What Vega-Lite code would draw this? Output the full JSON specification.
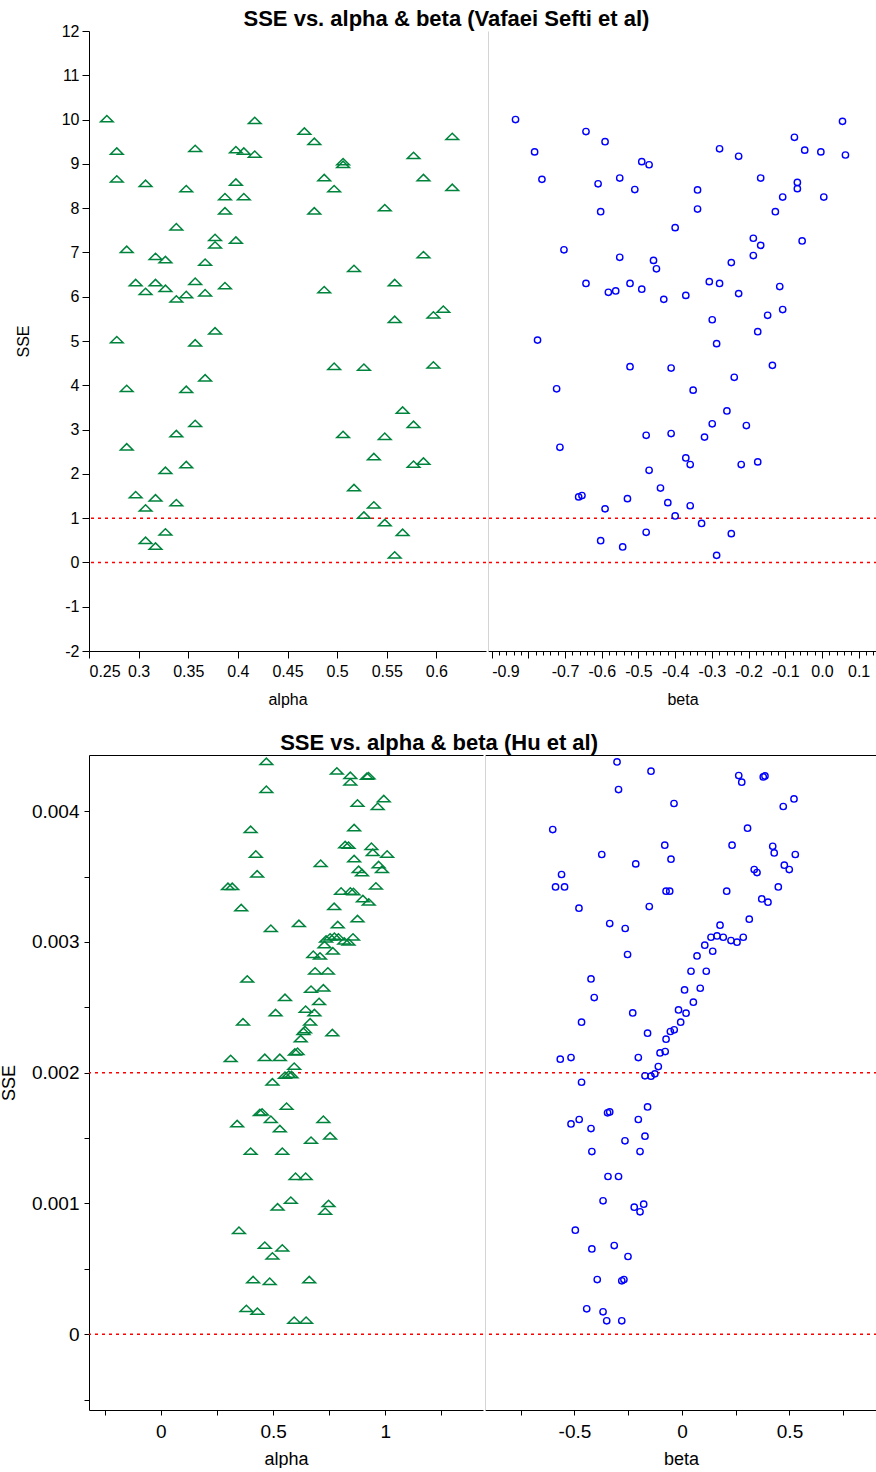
{
"$schema": "https://vega.github.io/schema/vega-lite/v6.json",
"padding": {"left": 0, "top": 8, "right": 0, "bottom": 0},
"config": {
  "view": {"stroke": null},
  "font": "Liberation Sans",
  "axis": {"grid": false, "domainColor": "#000000", "tickColor": "#000000", "labelColor": "#000000", "titleColor": "#000000", "labelFont": "Liberation Sans", "titleFont": "Liberation Sans", "labelFontSize": 16, "titleFontSize": 16, "titleFontWeight": "normal", "labelPadding": 3}
},
"datasets": {
  "refTop": [{"SSE": 0}, {"SSE": 1}],
  "refBot": [{"SSE": 0}, {"SSE": 0.002}],
  "va": [
    {"alpha":0.268,"SSE":10.02},{"alpha":0.417,"SSE":9.98},{"alpha":0.278,"SSE":9.29},{"alpha":0.357,"SSE":9.35},{"alpha":0.398,"SSE":9.32},{"alpha":0.406,"SSE":9.29},{"alpha":0.417,"SSE":9.22},{"alpha":0.278,"SSE":8.66},{"alpha":0.307,"SSE":8.56},{"alpha":0.348,"SSE":8.44},{"alpha":0.398,"SSE":8.59},{"alpha":0.387,"SSE":8.26},{"alpha":0.406,"SSE":8.26},{"alpha":0.387,"SSE":7.94},{"alpha":0.338,"SSE":7.58},{"alpha":0.377,"SSE":7.34},{"alpha":0.377,"SSE":7.17},{"alpha":0.398,"SSE":7.28},{"alpha":0.288,"SSE":7.07},{"alpha":0.317,"SSE":6.91},{"alpha":0.327,"SSE":6.84},{"alpha":0.367,"SSE":6.78},{"alpha":0.297,"SSE":6.32},{"alpha":0.317,"SSE":6.32},{"alpha":0.357,"SSE":6.35},{"alpha":0.387,"SSE":6.25},{"alpha":0.307,"SSE":6.12},{"alpha":0.327,"SSE":6.19},{"alpha":0.367,"SSE":6.09},{"alpha":0.338,"SSE":5.95},{"alpha":0.348,"SSE":6.05},{"alpha":0.377,"SSE":5.23},{"alpha":0.278,"SSE":5.03},{"alpha":0.357,"SSE":4.96},{"alpha":0.367,"SSE":4.17},{"alpha":0.288,"SSE":3.93},{"alpha":0.348,"SSE":3.91},{"alpha":0.357,"SSE":3.14},{"alpha":0.338,"SSE":2.91},{"alpha":0.288,"SSE":2.61},{"alpha":0.348,"SSE":2.21},{"alpha":0.327,"SSE":2.08},{"alpha":0.297,"SSE":1.53},{"alpha":0.317,"SSE":1.46},{"alpha":0.338,"SSE":1.35},{"alpha":0.307,"SSE":1.23},{"alpha":0.327,"SSE":0.69},{"alpha":0.307,"SSE":0.50},{"alpha":0.317,"SSE":0.37},{"alpha":0.467,"SSE":9.74},{"alpha":0.477,"SSE":9.51},{"alpha":0.616,"SSE":9.62},{"alpha":0.577,"SSE":9.19},{"alpha":0.506,"SSE":9.05},{"alpha":0.506,"SSE":8.99},{"alpha":0.487,"SSE":8.69},{"alpha":0.587,"SSE":8.69},{"alpha":0.497,"SSE":8.44},{"alpha":0.616,"SSE":8.47},{"alpha":0.477,"SSE":7.94},{"alpha":0.548,"SSE":8.01},{"alpha":0.587,"SSE":6.95},{"alpha":0.517,"SSE":6.64},{"alpha":0.558,"SSE":6.32},{"alpha":0.487,"SSE":6.16},{"alpha":0.607,"SSE":5.72},{"alpha":0.597,"SSE":5.59},{"alpha":0.558,"SSE":5.49},{"alpha":0.497,"SSE":4.43},{"alpha":0.527,"SSE":4.41},{"alpha":0.597,"SSE":4.46},{"alpha":0.566,"SSE":3.44},{"alpha":0.577,"SSE":3.12},{"alpha":0.506,"SSE":2.89},{"alpha":0.548,"SSE":2.85},{"alpha":0.537,"SSE":2.39},{"alpha":0.577,"SSE":2.22},{"alpha":0.587,"SSE":2.29},{"alpha":0.517,"SSE":1.69},{"alpha":0.537,"SSE":1.30},{"alpha":0.527,"SSE":1.07},{"alpha":0.548,"SSE":0.90},{"alpha":0.566,"SSE":0.68},{"alpha":0.558,"SSE":0.17}
  ],
  "vb": [
    {"beta":-0.835,"SSE":10.0},{"beta":-0.643,"SSE":9.73},{"beta":-0.591,"SSE":9.50},{"beta":-0.783,"SSE":9.27},{"beta":-0.491,"SSE":9.05},{"beta":-0.471,"SSE":8.98},{"beta":-0.763,"SSE":8.65},{"beta":-0.610,"SSE":8.55},{"beta":-0.551,"SSE":8.68},{"beta":-0.510,"SSE":8.42},{"beta":-0.603,"SSE":7.92},{"beta":-0.400,"SSE":7.56},{"beta":-0.703,"SSE":7.06},{"beta":-0.551,"SSE":6.89},{"beta":-0.459,"SSE":6.82},{"beta":-0.451,"SSE":6.63},{"beta":-0.643,"SSE":6.30},{"beta":-0.582,"SSE":6.10},{"beta":-0.562,"SSE":6.13},{"beta":-0.523,"SSE":6.30},{"beta":-0.491,"SSE":6.17},{"beta":-0.431,"SSE":5.94},{"beta":-0.371,"SSE":6.03},{"beta":-0.775,"SSE":5.02},{"beta":-0.523,"SSE":4.42},{"beta":-0.411,"SSE":4.39},{"beta":-0.723,"SSE":3.92},{"beta":-0.714,"SSE":2.60},{"beta":-0.479,"SSE":2.87},{"beta":-0.411,"SSE":2.91},{"beta":-0.371,"SSE":2.36},{"beta":-0.471,"SSE":2.08},{"beta":-0.440,"SSE":1.68},{"beta":-0.663,"SSE":1.48},{"beta":-0.654,"SSE":1.51},{"beta":-0.530,"SSE":1.44},{"beta":-0.591,"SSE":1.21},{"beta":-0.420,"SSE":1.35},{"beta":-0.400,"SSE":1.05},{"beta":-0.479,"SSE":0.68},{"beta":-0.603,"SSE":0.49},{"beta":-0.543,"SSE":0.35},{"beta":0.056,"SSE":9.96},{"beta":-0.075,"SSE":9.60},{"beta":-0.279,"SSE":9.34},{"beta":-0.227,"SSE":9.17},{"beta":-0.047,"SSE":9.31},{"beta":-0.003,"SSE":9.27},{"beta":0.064,"SSE":9.20},{"beta":-0.167,"SSE":8.68},{"beta":-0.067,"SSE":8.58},{"beta":-0.067,"SSE":8.44},{"beta":-0.339,"SSE":8.41},{"beta":-0.339,"SSE":7.98},{"beta":-0.107,"SSE":8.25},{"beta":0.005,"SSE":8.25},{"beta":-0.127,"SSE":7.92},{"beta":-0.187,"SSE":7.32},{"beta":-0.167,"SSE":7.16},{"beta":-0.054,"SSE":7.26},{"beta":-0.187,"SSE":6.93},{"beta":-0.247,"SSE":6.77},{"beta":-0.307,"SSE":6.34},{"beta":-0.279,"SSE":6.30},{"beta":-0.227,"SSE":6.07},{"beta":-0.115,"SSE":6.23},{"beta":-0.299,"SSE":5.48},{"beta":-0.148,"SSE":5.58},{"beta":-0.107,"SSE":5.71},{"beta":-0.175,"SSE":5.21},{"beta":-0.287,"SSE":4.94},{"beta":-0.135,"SSE":4.45},{"beta":-0.239,"SSE":4.18},{"beta":-0.351,"SSE":3.89},{"beta":-0.259,"SSE":3.42},{"beta":-0.299,"SSE":3.13},{"beta":-0.206,"SSE":3.09},{"beta":-0.320,"SSE":2.83},{"beta":-0.359,"SSE":2.21},{"beta":-0.220,"SSE":2.21},{"beta":-0.175,"SSE":2.27},{"beta":-0.359,"SSE":1.28},{"beta":-0.328,"SSE":0.88},{"beta":-0.247,"SSE":0.65},{"beta":-0.287,"SSE":0.16}
  ],
  "ha": [
    {"alpha":0.470,"SSE":0.004382},{"alpha":0.784,"SSE":0.004308},{"alpha":0.844,"SSE":0.004275},{"alpha":0.918,"SSE":0.004268},{"alpha":0.925,"SSE":0.004272},{"alpha":0.844,"SSE":0.004224},{"alpha":0.470,"SSE":0.004168},{"alpha":0.993,"SSE":0.004097},{"alpha":0.876,"SSE":0.004063},{"alpha":0.966,"SSE":0.004038},{"alpha":0.400,"SSE":0.003862},{"alpha":0.861,"SSE":0.003875},{"alpha":0.821,"SSE":0.003745},{"alpha":0.836,"SSE":0.003740},{"alpha":0.938,"SSE":0.003732},{"alpha":0.944,"SSE":0.003686},{"alpha":1.008,"SSE":0.003673},{"alpha":0.423,"SSE":0.003673},{"alpha":0.861,"SSE":0.003638},{"alpha":0.712,"SSE":0.003602},{"alpha":0.970,"SSE":0.003592},{"alpha":0.881,"SSE":0.003556},{"alpha":0.896,"SSE":0.003531},{"alpha":0.985,"SSE":0.003556},{"alpha":0.429,"SSE":0.003521},{"alpha":0.299,"SSE":0.003426},{"alpha":0.318,"SSE":0.003426},{"alpha":0.958,"SSE":0.003429},{"alpha":0.803,"SSE":0.003390},{"alpha":0.844,"SSE":0.003390},{"alpha":0.858,"SSE":0.003386},{"alpha":0.900,"SSE":0.003332},{"alpha":0.926,"SSE":0.003306},{"alpha":0.358,"SSE":0.003263},{"alpha":0.772,"SSE":0.003273},{"alpha":0.876,"SSE":0.003179},{"alpha":0.490,"SSE":0.003105},{"alpha":0.615,"SSE":0.003143},{"alpha":0.788,"SSE":0.003133},{"alpha":0.754,"SSE":0.003039},{"alpha":0.773,"SSE":0.003044},{"alpha":0.791,"SSE":0.003039},{"alpha":0.817,"SSE":0.003008},{"alpha":0.836,"SSE":0.003000},{"alpha":0.856,"SSE":0.003039},{"alpha":0.736,"SSE":0.003023},{"alpha":0.729,"SSE":0.002980},{"alpha":0.679,"SSE":0.002906},{"alpha":0.709,"SSE":0.002893},{"alpha":0.766,"SSE":0.002932},{"alpha":0.687,"SSE":0.002779},{"alpha":0.744,"SSE":0.002779},{"alpha":0.385,"SSE":0.002717},{"alpha":0.669,"SSE":0.002639},{"alpha":0.724,"SSE":0.002649},{"alpha":0.553,"SSE":0.002577},{"alpha":0.705,"SSE":0.002545},{"alpha":0.511,"SSE":0.002460},{"alpha":0.645,"SSE":0.002486},{"alpha":0.684,"SSE":0.002460},{"alpha":0.665,"SSE":0.002389},{"alpha":0.366,"SSE":0.002389},{"alpha":0.642,"SSE":0.002330},{"alpha":0.635,"SSE":0.002317},{"alpha":0.764,"SSE":0.002307},{"alpha":0.623,"SSE":0.002261},{"alpha":0.597,"SSE":0.002159},{"alpha":0.609,"SSE":0.002164},{"alpha":0.311,"SSE":0.002109},{"alpha":0.463,"SSE":0.002118},{"alpha":0.530,"SSE":0.002118},{"alpha":0.594,"SSE":0.002050},{"alpha":0.553,"SSE":0.001981},{"alpha":0.570,"SSE":0.001989},{"alpha":0.582,"SSE":0.001986},{"alpha":0.497,"SSE":0.001930},{"alpha":0.560,"SSE":0.001744},{"alpha":0.441,"SSE":0.001696},{"alpha":0.451,"SSE":0.001700},{"alpha":0.490,"SSE":0.001644},{"alpha":0.340,"SSE":0.001611},{"alpha":0.724,"SSE":0.001644},{"alpha":0.530,"SSE":0.001573},{"alpha":0.754,"SSE":0.001517},{"alpha":0.669,"SSE":0.001484},{"alpha":0.400,"SSE":0.001400},{"alpha":0.541,"SSE":0.001400},{"alpha":0.600,"SSE":0.001208},{"alpha":0.645,"SSE":0.001208},{"alpha":0.579,"SSE":0.001025},{"alpha":0.520,"SSE":0.000974},{"alpha":0.747,"SSE":0.001000},{"alpha":0.732,"SSE":0.000941},{"alpha":0.348,"SSE":0.000795},{"alpha":0.463,"SSE":0.000681},{"alpha":0.541,"SSE":0.000660},{"alpha":0.497,"SSE":0.000599},{"alpha":0.411,"SSE":0.000418},{"alpha":0.485,"SSE":0.000405},{"alpha":0.661,"SSE":0.000418},{"alpha":0.381,"SSE":0.000197},{"alpha":0.430,"SSE":0.000176},{"alpha":0.594,"SSE":0.000107},{"alpha":0.647,"SSE":0.000107}
  ],
  "hb": [
    {"beta":-0.302,"SSE":0.004377},{"beta":-0.144,"SSE":0.004306},{"beta":-0.295,"SSE":0.004166},{"beta":0.264,"SSE":0.004273},{"beta":0.278,"SSE":0.004222},{"beta":0.378,"SSE":0.004262},{"beta":0.386,"SSE":0.004270},{"beta":-0.037,"SSE":0.004059},{"beta":0.521,"SSE":0.004094},{"beta":0.471,"SSE":0.004036},{"beta":-0.601,"SSE":0.003860},{"beta":0.305,"SSE":0.003870},{"beta":-0.373,"SSE":0.003669},{"beta":-0.080,"SSE":0.003740},{"beta":-0.051,"SSE":0.003633},{"beta":0.233,"SSE":0.003740},{"beta":0.422,"SSE":0.003732},{"beta":0.429,"SSE":0.003681},{"beta":0.527,"SSE":0.003669},{"beta":-0.215,"SSE":0.003597},{"beta":-0.560,"SSE":0.003516},{"beta":-0.588,"SSE":0.003421},{"beta":-0.546,"SSE":0.003421},{"beta":0.336,"SSE":0.003554},{"beta":0.349,"SSE":0.003531},{"beta":0.476,"SSE":0.003587},{"beta":0.499,"SSE":0.003554},{"beta":-0.074,"SSE":0.003388},{"beta":-0.057,"SSE":0.003388},{"beta":0.448,"SSE":0.003421},{"beta":0.208,"SSE":0.003388},{"beta":-0.479,"SSE":0.003258},{"beta":-0.152,"SSE":0.003271},{"beta":0.371,"SSE":0.003329},{"beta":0.400,"SSE":0.003304},{"beta":-0.336,"SSE":0.003141},{"beta":-0.264,"SSE":0.003103},{"beta":0.313,"SSE":0.003174},{"beta":0.177,"SSE":0.003128},{"beta":0.135,"SSE":0.003036},{"beta":0.163,"SSE":0.003046},{"beta":0.192,"SSE":0.003036},{"beta":0.228,"SSE":0.003011},{"beta":0.256,"SSE":0.002998},{"beta":0.285,"SSE":0.003036},{"beta":0.106,"SSE":0.002975},{"beta":0.143,"SSE":0.002929},{"beta":-0.253,"SSE":0.002904},{"beta":0.070,"SSE":0.002893},{"beta":0.042,"SSE":0.002776},{"beta":0.113,"SSE":0.002776},{"beta":-0.423,"SSE":0.002717},{"beta":0.012,"SSE":0.002633},{"beta":0.085,"SSE":0.002646},{"beta":-0.408,"SSE":0.002575},{"beta":0.053,"SSE":0.002539},{"beta":-0.229,"SSE":0.002457},{"beta":-0.016,"SSE":0.002480},{"beta":0.019,"SSE":0.002455},{"beta":-0.006,"SSE":0.002386},{"beta":-0.467,"SSE":0.002386},{"beta":-0.054,"SSE":0.002315},{"beta":-0.036,"SSE":0.002328},{"beta":-0.160,"SSE":0.002302},{"beta":-0.074,"SSE":0.002256},{"beta":-0.102,"SSE":0.002151},{"beta":-0.078,"SSE":0.002162},{"beta":-0.566,"SSE":0.002103},{"beta":-0.516,"SSE":0.002116},{"beta":-0.203,"SSE":0.002116},{"beta":-0.110,"SSE":0.002047},{"beta":-0.172,"SSE":0.001976},{"beta":-0.144,"SSE":0.001973},{"beta":-0.126,"SSE":0.001991},{"beta":-0.467,"SSE":0.001927},{"beta":-0.160,"SSE":0.001738},{"beta":-0.346,"SSE":0.001693},{"beta":-0.336,"SSE":0.001700},{"beta":-0.478,"SSE":0.001642},{"beta":-0.516,"SSE":0.001608},{"beta":-0.203,"SSE":0.001642},{"beta":-0.423,"SSE":0.001573},{"beta":-0.172,"SSE":0.001514},{"beta":-0.265,"SSE":0.001479},{"beta":-0.419,"SSE":0.001397},{"beta":-0.195,"SSE":0.001397},{"beta":-0.344,"SSE":0.001206},{"beta":-0.295,"SSE":0.001206},{"beta":-0.367,"SSE":0.001020},{"beta":-0.178,"SSE":0.000994},{"beta":-0.222,"SSE":0.000971},{"beta":-0.195,"SSE":0.000936},{"beta":-0.496,"SSE":0.000795},{"beta":-0.315,"SSE":0.000678},{"beta":-0.419,"SSE":0.000652},{"beta":-0.251,"SSE":0.000594},{"beta":-0.394,"SSE":0.000418},{"beta":-0.280,"SSE":0.000408},{"beta":-0.270,"SSE":0.000418},{"beta":-0.443,"SSE":0.000194},{"beta":-0.367,"SSE":0.000171},{"beta":-0.350,"SSE":0.000102},{"beta":-0.280,"SSE":0.000102}
  ]
},
"spacing": 25,
"vconcat": [
  {
    "title": {"text": "SSE vs. alpha & beta (Vafaei Sefti et al)", "fontSize": 22, "fontWeight": "bold", "font": "Liberation Sans", "anchor": "middle", "offset": -8, "color": "#000000"},
    "spacing": 0,
    "hconcat": [
      {
        "width": 397, "height": 620,
        "layer": [
          {"data": {"name": "refTop"}, "mark": {"type": "rule", "color": "#ff0000", "strokeDash": [3, 4], "strokeWidth": 1.5},
           "encoding": {"y": {"field": "SSE", "type": "quantitative", "scale": {"domain": [-2, 12], "nice": false, "zero": false},
             "axis": {"values": [-2,-1,0,1,2,3,4,5,6,7,8,9,10,11,12], "labelExpr": "replace(datum.label, '\u2212', '-')", "tickSize": 7, "titlePadding": 30, "title": "SSE"}}}},
          {"data": {"name": "va"}, "mark": {"type": "point", "shape": "M-1,0.5L1,0.5L0,-0.5Z", "filled": false, "color": "#00843d", "strokeWidth": 1.5, "size": 160, "opacity": 1},
           "encoding": {"x": {"field": "alpha", "type": "quantitative", "scale": {"domain": [0.25, 0.65], "nice": false, "zero": false},
             "axis": {"values": [0.25,0.3,0.35,0.4,0.45,0.5,0.55,0.6], "format": ".2~f", "tickSize": 7, "labelFlush": 6, "labelPadding": 5, "title": "alpha", "titlePadding": 12}},
             "y": {"field": "SSE", "type": "quantitative"}}}
        ]
      },
      {
        "width": 389, "height": 620,
        "resolve": {"axis": {"x": "independent"}},
        "layer": [
          {"data": {"name": "refTop"}, "mark": {"type": "rule", "color": "#ff0000", "strokeDash": [3, 4], "strokeWidth": 1.5},
           "encoding": {"y": {"field": "SSE", "type": "quantitative", "scale": {"domain": [-2, 12], "nice": false, "zero": false},
             "axis": {"labels": false, "ticks": false, "title": null, "domainColor": "#d4d4d4"}}}},
          {"data": {"name": "vb"}, "mark": {"type": "point", "shape": "circle", "filled": false, "color": "#0000ff", "strokeWidth": 1.4, "size": 40, "opacity": 1},
           "encoding": {"x": {"field": "beta", "type": "quantitative", "scale": {"domain": [-0.91, 0.15], "nice": false, "zero": false},
             "axis": {"orient": "bottom", "values": [-0.9,-0.8,-0.7,-0.6,-0.5,-0.4,-0.3,-0.2,-0.1,0,0.1], "labelExpr": "datum.value == -0.8 ? '' : replace(datum.label, '\u2212', '-')", "tickSize": 7, "labelFlush": 6, "labelPadding": 5, "title": "beta", "titlePadding": 12}},
             "y": {"field": "SSE", "type": "quantitative"}}},
          {"data": {"name": "vb"}, "mark": {"type": "point", "opacity": 0},
           "encoding": {"x": {"field": "beta", "type": "quantitative",
             "axis": {"orient": "bottom", "values": [-0.88,-0.86,-0.84,-0.82,-0.78,-0.76,-0.74,-0.72,-0.68,-0.66,-0.64,-0.62,-0.58,-0.56,-0.54,-0.52,-0.48,-0.46,-0.44,-0.42,-0.38,-0.36,-0.34,-0.32,-0.28,-0.26,-0.24,-0.22,-0.18,-0.16,-0.14,-0.12,-0.08,-0.06,-0.04,-0.02,0.02,0.04,0.06,0.08,0.12,0.14], "labels": false, "domain": false, "tickSize": 4, "title": null}},
             "y": {"field": "SSE", "type": "quantitative"}}}
        ]
      }
    ]
  },
  {
    "title": {"text": "SSE vs. alpha & beta (Hu et al)", "fontSize": 22, "fontWeight": "bold", "font": "Liberation Sans", "anchor": "middle", "offset": 0, "color": "#000000"},
    "spacing": 0,
    "hconcat": [
      {
        "width": 394, "height": 655,
        "resolve": {"axis": {"x": "independent"}},
        "layer": [
          {"data": {"name": "refBot"}, "mark": {"type": "rule", "color": "#ff0000", "strokeDash": [3, 4], "strokeWidth": 1.5},
           "encoding": {"y": {"field": "SSE", "type": "quantitative", "scale": {"domain": [-0.00058, 0.00443], "nice": false, "zero": false},
             "axis": {"values": [-0.0005,0,0.0005,0.001,0.0015,0.002,0.0025,0.003,0.0035,0.004], "format": ".3~f", "labelExpr": "abs(datum.value*1000 - round(datum.value*1000)) < 0.000001 ? datum.label : ''", "tickSize": 5, "labelPadding": 5, "labelFontSize": 19, "titleFontSize": 18, "titlePadding": 13, "title": "SSE"}}}},
          {"data": {"name": "ha"}, "mark": {"type": "point", "shape": "M-1,0.5L1,0.5L0,-0.5Z", "filled": false, "color": "#00843d", "strokeWidth": 1.5, "size": 160, "opacity": 1},
           "encoding": {"x": {"field": "alpha", "type": "quantitative", "scale": {"domain": [-0.32, 1.435], "nice": false, "zero": false},
             "axis": {"orient": "bottom", "values": [-0.25,0,0.25,0.5,0.75,1,1.25], "format": "~g", "labelExpr": "datum.value == 0 || datum.value == 0.5 || datum.value == 1 ? datum.label : ''", "tickSize": 5, "labelPadding": 7, "labelFontSize": 19, "titleFontSize": 18, "title": "alpha", "titlePadding": 9}},
             "y": {"field": "SSE", "type": "quantitative"}}},
          {"data": {"name": "ha"}, "mark": {"type": "point", "opacity": 0},
           "encoding": {"x": {"field": "alpha", "type": "quantitative",
             "axis": {"orient": "top", "values": [], "labels": false, "ticks": false, "title": null}},
             "y": {"field": "SSE", "type": "quantitative"}}}
        ]
      },
      {
        "width": 392, "height": 655,
        "resolve": {"axis": {"x": "independent"}},
        "layer": [
          {"data": {"name": "refBot"}, "mark": {"type": "rule", "color": "#ff0000", "strokeDash": [3, 4], "strokeWidth": 1.5},
           "encoding": {"y": {"field": "SSE", "type": "quantitative", "scale": {"domain": [-0.00058, 0.00443], "nice": false, "zero": false},
             "axis": {"labels": false, "ticks": false, "title": null, "domainColor": "#d4d4d4"}}}},
          {"data": {"name": "hb"}, "mark": {"type": "point", "shape": "circle", "filled": false, "color": "#0000ff", "strokeWidth": 1.4, "size": 40, "opacity": 1},
           "encoding": {"x": {"field": "beta", "type": "quantitative", "scale": {"domain": [-0.916, 0.907], "nice": false, "zero": false},
             "axis": {"orient": "bottom", "values": [-0.75,-0.5,-0.25,0,0.25,0.5,0.75], "format": "~g", "labelExpr": "datum.value == 0 || datum.value == 0.5 ? datum.label : datum.value == -0.5 ? '-0.5' : ''", "tickSize": 5, "labelPadding": 7, "labelFontSize": 19, "titleFontSize": 18, "title": "beta", "titlePadding": 9}},
             "y": {"field": "SSE", "type": "quantitative"}}},
          {"data": {"name": "hb"}, "mark": {"type": "point", "opacity": 0},
           "encoding": {"x": {"field": "beta", "type": "quantitative",
             "axis": {"orient": "top", "values": [], "labels": false, "ticks": false, "title": null}},
             "y": {"field": "SSE", "type": "quantitative"}}}
        ]
      }
    ]
  }
]
}
